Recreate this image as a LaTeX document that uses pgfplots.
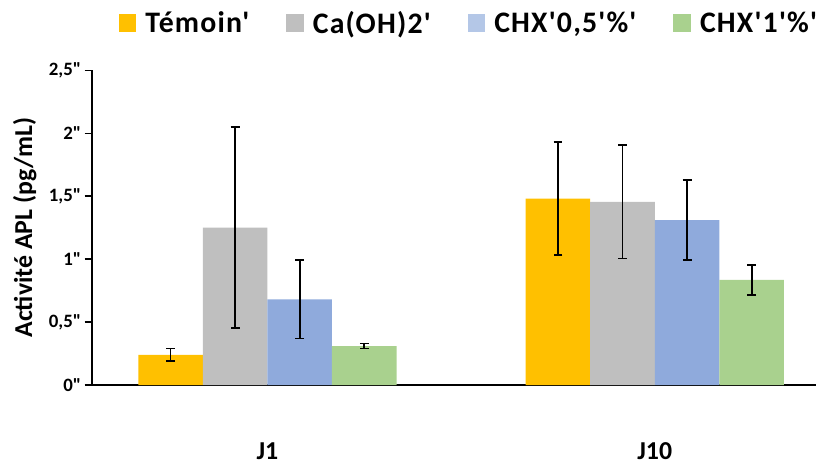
\documentclass[border=0pt]{standalone}
\usepackage{pgfplots}
\pgfplotsset{compat=1.18}
\usepackage{fontspec}
\setmainfont{Carlito}
\newfontfamily\calfont{Carlito}
\newfontfamily\legfont{Carlito}[LetterSpace=4.0]

\definecolor{cTem}{HTML}{FFC000}
\definecolor{cCa}{HTML}{BFBFBF}
\definecolor{cChxA}{HTML}{8FAADC}
\definecolor{cChxAleg}{HTML}{B4C7E7}
\definecolor{cChxB}{HTML}{A9D18E}

\begin{document}
\begin{tikzpicture}
\begin{axis}[
  scale only axis,
  width=729pt, height=317pt,
  ybar=0pt, bar width=65pt,
  xmin=-0.4538, xmax=1.415,
  ymin=0, ymax=2.5,
  xtick={0,1}, xticklabels={J1,J10},
  xtick style={draw=none},
  ytick={0,0.5,1,1.5,2,2.5},
  yticklabels={{0"},{0,5"},{1"},{1,5"},{2"},{2,5"}},
  ytick style={black, line width=1.4pt},
  tick align=outside, major tick length=7pt,
  axis x line*=bottom, axis y line*=left,
  axis line style={line width=2pt, black},
  x axis line style={-}, y axis line style={-},
  every tick label/.append style={font=\calfont\bfseries},
  yticklabel style={font=\calfont\bfseries\fontsize{19}{19}\selectfont},
  xticklabel style={font=\calfont\bfseries\fontsize{26}{26}\selectfont, yshift=-45pt, inner ysep=6pt},
  ylabel={\calfont\bfseries Activité APL (pg/mL)},
  ylabel style={font=\fontsize{26}{26}\selectfont, inner ysep=13pt, yshift=-4pt},
  legend columns=4,
  legend style={draw=none, fill=none, inner xsep=0pt, inner ysep=9pt,
    at={(rel axis cs:0.037,1.151)}, anchor=west,
    font=\legfont\bfseries\fontsize{30}{30}\selectfont,
    /tikz/every odd column/.append style={column sep=7pt},
    /tikz/every even column/.append style={column sep=35pt}},
  error bars/error bar style={black, line width=1.8pt},
  error bars/error mark options={black, line width=1.8pt, rotate=90, mark size=4.5pt},
]
\addplot[fill=cTem, draw=none,
  legend image code/.code={\fill[cTem] (0pt,-9pt) rectangle (18pt,9pt);},
  error bars/.cd, y dir=both, y explicit]
  coordinates {(0,0.24) +- (0,0.05) (1,1.48) +- (0,0.45)};
\addplot[fill=cCa, draw=none,
  legend image code/.code={\fill[cCa] (0pt,-9pt) rectangle (18pt,9pt);},
  error bars/.cd, y dir=both, y explicit]
  coordinates {(0,1.25) +- (0,0.80) (1,1.455) +- (0,0.45)};
\addplot[fill=cChxA, draw=none,
  legend image code/.code={\fill[cChxAleg] (0pt,-9pt) rectangle (18pt,9pt);},
  error bars/.cd, y dir=both, y explicit]
  coordinates {(0,0.68) +- (0,0.31) (1,1.31) +- (0,0.32)};
\addplot[fill=cChxB, draw=none,
  legend image code/.code={\fill[cChxB] (0pt,-9pt) rectangle (18pt,9pt);},
  error bars/.cd, y dir=both, y explicit]
  coordinates {(0,0.31) +- (0,0.02) (1,0.835) +- (0,0.12)};
\legend{Témoin',Ca(OH)2',{CHX'0,5'\%'},CHX'1'\%'}
\end{axis}
\end{tikzpicture}
\end{document}
